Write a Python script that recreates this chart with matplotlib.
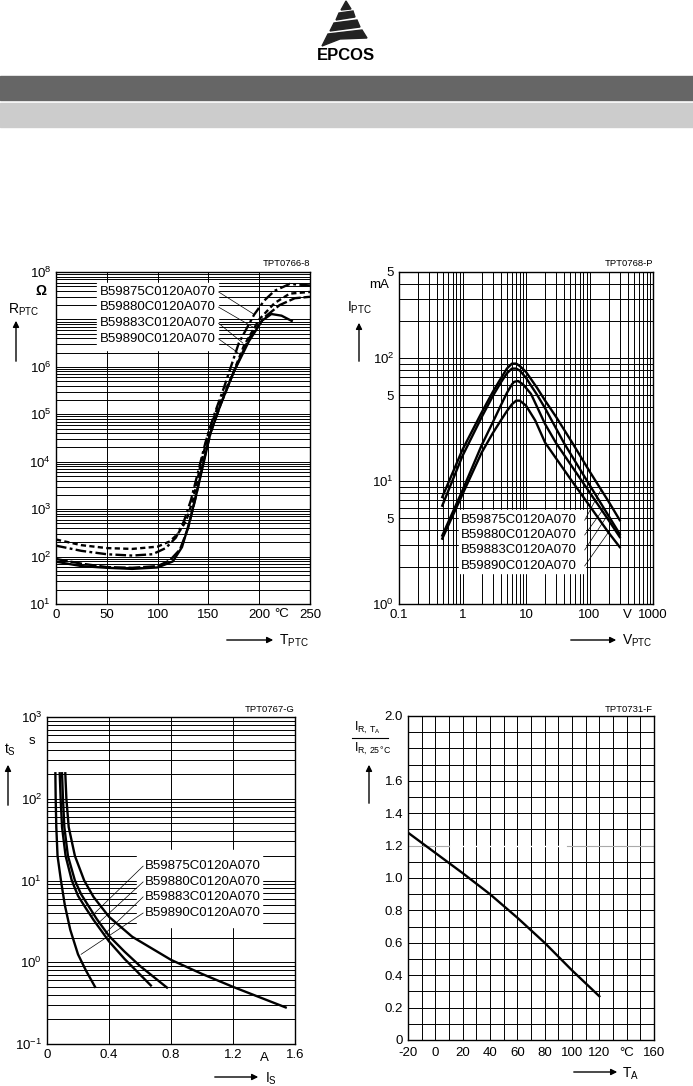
import matplotlib
matplotlib.use('Agg')
import matplotlib.pyplot as plt
import numpy as np
from matplotlib.patches import Rectangle, Polygon
from matplotlib.ticker import LogLocator, NullFormatter, MultipleLocator

plt.rcParams['font.family'] = ['Liberation Sans', 'DejaVu Sans']
plt.rcParams['mathtext.fontset'] = 'custom'
plt.rcParams['mathtext.rm'] = 'Liberation Sans'
plt.rcParams['mathtext.it'] = 'Liberation Sans:italic'
plt.rcParams['mathtext.bf'] = 'Liberation Sans:bold'

W, H = 693, 1086
FS = 9.5

parts = ['B59875C0120A070', 'B59880C0120A070', 'B59883C0120A070', 'B59890C0120A070']

# --- R_PTC vs T_PTC (four curves, different dash styles)
t_dash = [0, 25, 50, 75, 100, 112, 120, 128, 135, 142, 150, 160, 172, 185, 200, 215, 230, 250]
r_dash = [229, 174, 151, 145, 162, 209, 302, 562, 1.6e3, 7.9e3, 4.0e4, 1.6e5, 5.6e5, 2.8e6, 1.0e7, 2.2e7, 3.5e7, 3.8e7]
t_dashdot = [0, 25, 50, 75, 95, 108, 118, 126, 133, 140, 147, 155, 165, 180, 195, 205, 215, 230, 250]
r_dashdot = [170, 132, 112, 105, 112, 151, 251, 562, 1.6e3, 6.3e3, 2.5e4, 8.9e4, 3.5e5, 3.2e6, 1.26e7, 2.5e7, 4.0e7, 5.6e7, 5.2e7]
t_long = [0, 25, 50, 75, 100, 112, 122, 130, 137, 144, 152, 162, 175, 190, 205, 220, 235, 250]
r_long = [89, 71, 60, 58, 63, 83, 141, 398, 1.6e3, 7.9e3, 4.0e4, 1.6e5, 7.9e5, 4.0e6, 1.1e7, 2.0e7, 2.8e7, 3.0e7]
t_solid = [0, 25, 50, 75, 100, 115, 124, 131, 138, 145, 152, 162, 175, 190, 203, 212, 222, 232]
r_solid = [78, 63, 58, 55, 59, 79, 158, 501, 2.0e3, 8.9e3, 4.0e4, 1.6e5, 7.9e5, 3.5e6, 9.5e6, 1.3e7, 1.2e7, 9.3e6]

# --- I_PTC vs V_PTC
v1 = [0.48, 1, 2, 3, 4, 5, 6, 7, 8, 10, 15, 20, 30, 55, 100, 200, 300]
i1 = [7.4, 18, 36, 53, 68, 82, 90, 90, 86, 77, 57, 45, 33, 20, 12, 6.8, 4.8]
v2 = [0.48, 1, 2, 3, 4, 5, 6, 7, 8, 10, 15, 20, 40, 100, 200, 300]
i2 = [6.3, 16, 33, 49, 63, 75, 82, 82, 79, 69, 50, 39, 20.2, 9.3, 5.2, 3.7]
v3 = [0.48, 1, 2, 3, 4, 5, 6, 6.5, 7.5, 9, 12, 20, 30, 100, 200, 300]
i3 = [3.6, 8.4, 19.5, 30, 41, 52, 61, 64, 65, 61, 51, 29, 20.2, 8.1, 4.8, 3.5]
v4 = [0.48, 1, 2, 3, 4, 5, 6, 7, 8, 10, 14, 20, 50, 100, 200, 300]
i4 = [3.4, 7.8, 17, 24.5, 31, 37, 42, 45, 45, 41, 31, 20.5, 10.4, 6.3, 3.8, 2.9]

# --- t_S vs I_S
is1 = [0.054, 0.056, 0.06, 0.068, 0.09, 0.115, 0.15, 0.2, 0.25, 0.31]
ts1 = [205, 100, 45, 20, 10, 5, 2.5, 1.25, 0.8, 0.5]
is2 = [0.082, 0.088, 0.097, 0.12, 0.16, 0.2, 0.25, 0.3, 0.4, 0.5, 0.67]
ts2 = [205, 100, 45, 20, 10, 6.5, 4.6, 3.3, 1.8, 1.1, 0.52]
is3 = [0.097, 0.103, 0.112, 0.135, 0.18, 0.22, 0.27, 0.32, 0.4, 0.5, 0.6, 0.774]
ts3 = [205, 100, 45, 20, 10, 6.8, 4.8, 3.4, 2.1, 1.35, 0.9, 0.49]
is4 = [0.118, 0.125, 0.14, 0.18, 0.24, 0.3, 0.4, 0.55, 0.8, 1.0, 1.2, 1.54]
ts4 = [205, 100, 45, 20, 10, 6.3, 3.6, 2.05, 1.07, 0.72, 0.5, 0.28]

# --- derating I_R(T_A)/I_R(25 C)
ta = [-20, 0, 20, 40, 60, 80, 100, 120]
ratio = [1.28, 1.155, 1.03, 0.90, 0.755, 0.60, 0.43, 0.27]


def px_axes(fig, l, t, r, b):
    return fig.add_axes([l / W, 1 - b / H, (r - l) / W, (b - t) / H])


def ftext(fig, x, y, s, **kw):
    kw.setdefault('fontsize', FS)
    fig.text(x / W, 1 - y / H, s, **kw)


def farrow(fig, x0, y0, x1, y1):
    fig.add_artist(matplotlib.patches.FancyArrowPatch(
        (x0 / W, 1 - y0 / H), (x1 / W, 1 - y1 / H), transform=fig.transFigure,
        arrowstyle='-|>', mutation_scale=9, lw=1.0, color='k'))


def style(ax):
    ax.set_axisbelow(True)
    for sp in ax.spines.values():
        sp.set_linewidth(1.0)
    ax.tick_params(which='both', length=0, labelsize=FS, pad=3.5)
    ax.grid(True, which='both', color='k', lw=0.7)


def logminor(axis):
    axis.set_minor_locator(LogLocator(base=10, subs=np.arange(2, 10), numticks=20))
    axis.set_minor_formatter(NullFormatter())


def header(fig):
    fig.patches.append(Rectangle((0, 1 - 100 / H), 1, 24 / H, transform=fig.transFigure,
                                 color='#666666', zorder=0))
    fig.patches.append(Rectangle((0, 1 - 127 / H), 1, 24 / H, transform=fig.transFigure,
                                 color='#cccccc', zorder=0))
    shapes = [
        [(346, 1), (341, 10), (351, 9)],
        [(339, 13), (353, 11), (355, 17), (336, 20)],
        [(334, 23), (357, 20), (360, 27), (330, 31)],
        [(328, 34), (362, 30), (367, 38), (340, 39), (322, 46)],
    ]
    for pts in shapes:
        fig.patches.append(Polygon([(x / W, 1 - y / H) for x, y in pts], closed=True,
                                   transform=fig.transFigure, color='#222222'))
    ftext(fig, 346, 55, 'EPCOS', ha='center', va='center', fontsize=12, weight='bold')


def panel_r(fig):
    ax = px_axes(fig, 56, 272, 310, 604)
    ax.set_yscale('log')
    ax.set_xlim(0, 250)
    ax.set_ylim(1e1, 1e8)
    logminor(ax.yaxis)
    ax.set_xticks([0, 50, 100, 150, 200, 250])
    ax.set_yticks([1e1, 1e2, 1e3, 1e4, 1e5, 1e6, 1e7, 1e8])
    ax.set_yticklabels(['$10^1$', '$10^2$', '$10^3$', '$10^4$', '$10^5$', '$10^6$', '', '$10^8$'])
    style(ax)
    ax.xaxis.grid(False, which='minor')
    ax.text(222, 10 ** 0.78, '°C', ha='center', va='center', fontsize=FS)
    ax.add_patch(Rectangle((40, 10 ** 6.36), 119, 10 ** 7.77 - 10 ** 6.36, color='white', zorder=1))
    lw = 1.7
    ax.plot(t_dash, r_dash, 'k', lw=lw, dashes=(2.2, 1.4), zorder=3)
    ax.plot(t_dashdot, r_dashdot, 'k', lw=lw, dashes=(4.5, 1.4, 1.2, 1.4), zorder=3)
    ax.plot(t_long, r_long, 'k', lw=lw, dashes=(5, 1.2), zorder=3)
    ax.plot(t_solid, r_solid, 'k', lw=lw, zorder=3)
    ly = [10 ** 7.58, 10 ** 7.26, 10 ** 6.92, 10 ** 6.59]
    ends = [(194, 10 ** 7.12), (197, 10 ** 6.8), (184, 10 ** 6.5), (179, 10 ** 6.3)]
    for s, y, (ex, ey) in zip(parts, ly, ends):
        ax.text(43, y, s, fontsize=FS, va='center', ha='left', zorder=4)
        ax.plot([160, ex], [y, ey], 'k', lw=0.5, zorder=4)
    ftext(fig, 310, 264, 'TPT0766-8', ha='right', va='center', fontsize=6.8)
    ftext(fig, 41, 291, 'Ω', ha='center', va='center', fontsize=10, weight='bold')
    ftext(fig, 8, 310, r'$\mathrm{R_{PTC}}$', va='center', fontsize=10)
    farrow(fig, 16, 364, 16, 318)
    farrow(fig, 224, 640, 276, 640)
    ftext(fig, 279, 641, r'$\mathrm{T_{PTC}}$', va='center', fontsize=10)


def panel_i(fig):
    ax = px_axes(fig, 399, 272, 653, 604)
    ax.set_xscale('log')
    ax.set_yscale('log')
    ax.set_xlim(0.1, 1000)
    ax.set_ylim(1, 500)
    logminor(ax.xaxis)
    logminor(ax.yaxis)
    ax.set_xticks([0.1, 1, 10, 100, 1000])
    ax.set_xticklabels(['0.1', '1', '10', '100', '1000'])
    ax.set_yticks([1, 5, 10, 50, 100, 500])
    ax.set_yticklabels(['$10^0$', '5', '$10^1$', '5', '$10^2$', '5'])
    style(ax)
    ax.text(400, 10 ** -0.09, 'V', ha='center', va='center', fontsize=FS)
    ax.add_patch(Rectangle((0.88, 1.79), 85 - 0.88, 5.8 - 1.79, color='white', zorder=1))
    for v, i in [(v1, i1), (v2, i2), (v3, i3), (v4, i4)]:
        ax.plot(v, i, 'k', lw=1.7, zorder=3)
    ly = [4.8, 3.64, 2.75, 2.04]
    ends = [(150, 8.4), (165, 5.9), (180, 5.0), (200, 3.85)]
    for s, y, (ex, ey) in zip(parts, ly, ends):
        ax.text(0.95, y, s, fontsize=FS, va='center', ha='left', zorder=4)
        ax.plot([84, ex], [y, ey], 'k', lw=0.5, zorder=4)
    ftext(fig, 653, 264, 'TPT0768-P', ha='right', va='center', fontsize=6.8)
    ftext(fig, 389, 285, 'mA', ha='right', va='center', fontsize=FS)
    ftext(fig, 347, 308, r'$\mathrm{I_{PTC}}$', va='center', fontsize=10)
    farrow(fig, 359, 364, 359, 320)
    farrow(fig, 568, 640, 619, 640)
    ftext(fig, 622, 641, r'$\mathrm{V_{PTC}}$', va='center', fontsize=10)


def panel_t(fig):
    ax = px_axes(fig, 47, 717, 295, 1044)
    ax.set_yscale('log')
    ax.set_xlim(0, 1.6)
    ax.set_ylim(0.1, 1000)
    logminor(ax.yaxis)
    ax.set_xticks([0, 0.4, 0.8, 1.2, 1.6])
    ax.set_xticklabels(['0', '0.4', '0.8', '1.2', '1.6'])
    ax.set_yticks([0.1, 1, 10, 100, 1000])
    ax.set_yticklabels(['$10^{-1}$', '$10^0$', '$10^1$', '$10^2$', '$10^3$'])
    style(ax)
    ax.xaxis.grid(False, which='minor')
    ax.text(1.4, 10 ** -1.17, 'A', ha='center', va='center', fontsize=FS)
    ax.add_patch(Rectangle((0.58, 2.7), 1.39 - 0.58, 23.6 - 2.7, color='white', zorder=1))
    for i, t in [(is1, ts1), (is2, ts2), (is3, ts3), (is4, ts4)]:
        ax.plot(i, t, 'k', lw=1.7, zorder=3)
    ly = [15, 9.6, 6.3, 4.0]
    ends = [(0.29, 3.7), (0.33, 3.0), (0.37, 2.2), (0.22, 1.25)]
    for s, y, (ex, ey) in zip(parts, ly, ends):
        ax.text(0.63, y, s, fontsize=FS, va='center', ha='left', zorder=4)
        ax.plot([0.62, ex], [y, ey], 'k', lw=0.5, zorder=4)
    ftext(fig, 295, 709, 'TPT0767-G', ha='right', va='center', fontsize=6.8)
    ftext(fig, 32, 741, 's', ha='center', va='center', fontsize=FS)
    ftext(fig, 4, 750, r'$\mathrm{t_S}$', va='center', fontsize=10)
    farrow(fig, 8, 808, 8, 762)
    farrow(fig, 212, 1077, 261, 1077)
    ftext(fig, 265, 1079, r'$\mathrm{I_S}$', va='center', fontsize=10)


def panel_d(fig):
    ax = px_axes(fig, 408, 716, 654, 1040)
    ax.set_xlim(-20, 160)
    ax.set_ylim(0, 2.0)
    ax.xaxis.set_minor_locator(MultipleLocator(10))
    ax.yaxis.set_minor_locator(MultipleLocator(0.1))
    ax.set_xticks(np.arange(-20, 161, 20))
    ax.set_xticklabels(['-20', '0', '20', '40', '60', '80', '100', '120', '°C', '160'])
    ax.set_yticks(np.arange(0, 2.01, 0.2))
    ax.set_yticklabels(['0', '0.2', '0.4', '0.6', '0.8', '1.0', '1.2', '1.4', '1.6', '', '2.0'])
    style(ax)
    ax.tick_params(axis='x', pad=5)
    ax.plot([10, 96], [1.2, 1.2], color='white', lw=1.0, zorder=1)
    ax.plot([-20, 10], [1.2, 1.2], color='#aaaaaa', lw=0.8, zorder=1)
    ax.plot([96, 160], [1.2, 1.2], color='#aaaaaa', lw=0.8, zorder=1)
    ax.plot(ta, ratio, 'k', lw=1.7, zorder=3)
    ftext(fig, 653, 709, 'TPT0731-F', ha='right', va='center', fontsize=6.8)
    ftext(fig, 354, 728, r'$\mathrm{I_{R,\,T_A}}$', va='center', fontsize=9)
    fig.add_artist(plt.Line2D([352 / W, 388 / W], [1 - 738 / H, 1 - 738 / H], color='k', lw=0.8))
    ftext(fig, 354, 749, r'$\mathrm{I_{R,\,25\,°C}}$', va='center', fontsize=9)
    farrow(fig, 369, 806, 369, 762)
    farrow(fig, 571, 1072, 620, 1072)
    ftext(fig, 622, 1074, r'$\mathrm{T_A}$', va='center', fontsize=10)


def main():
    fig = plt.figure(figsize=(W / 100, H / 100), dpi=100)
    header(fig)
    panel_r(fig)
    panel_i(fig)
    panel_t(fig)
    panel_d(fig)
    fig.savefig('out.png', dpi=100)


if __name__ == '__main__':
    main()
